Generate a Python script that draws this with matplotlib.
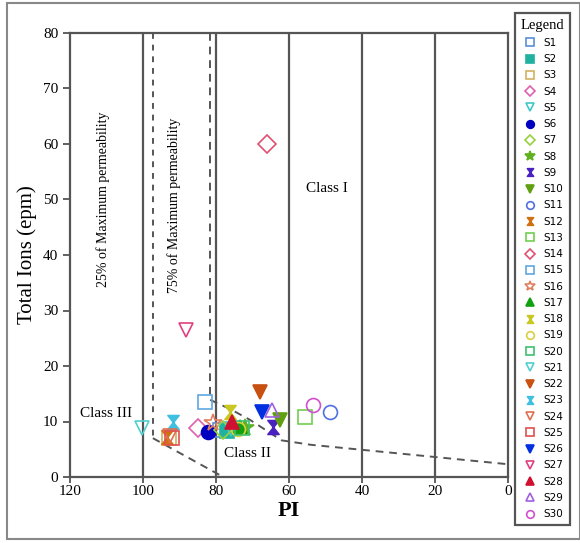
import numpy as np
import matplotlib
matplotlib.use('Agg')
import matplotlib.pyplot as plt
from matplotlib.path import Path
from matplotlib.patches import Rectangle

plt.rcParams['font.family'] = ['Liberation Serif', 'DejaVu Serif']

# sample data
samples = ['S%d' % i for i in range(1, 31)]
pi = [79, 77, 93, 85, 76, 82.2, 78, 72, 64.4, 62.5,
      48.8, 93.5, 55.6, 66, 83, 80.8, 73.4, 76.2, 74, 73,
      100.3, 68, 91.8, 92.5, 92, 67.4, 88.2, 75.6, 64.7, 53.4]
ions = [8.5, 8.3, 7.0, 8.8, 8.6, 8.1, 8.5, 8.8, 9.0, 10.3,
        11.7, 7.2, 10.8, 60, 13.5, 9.7, 9.0, 11.7, 8.7, 8.9,
        8.8, 15.3, 9.9, 7.4, 7.0, 11.7, 26.5, 9.9, 12.1, 13.0]

hourglass = Path([(-0.8, 1), (0.8, 1), (-0.8, -1), (0.8, -1), (-0.8, 1)],
                 [Path.MOVETO, Path.LINETO, Path.LINETO, Path.LINETO, Path.CLOSEPOLY])

markers = ['s', 's', 's', 'D', 'v', 'o', 'D', '*', hourglass, 'v',
           'o', hourglass, 's', 'D', 's', '*', '^', hourglass, 'o', 's',
           'v', 'v', hourglass, 'v', 's', 'v', 'v', '^', '^', 'o']
filled = [False, True, False, False, False, True, False, True, True, True,
          False, True, False, False, False, False, True, True, False, False,
          False, True, True, False, False, True, False, True, False, False]
colors = ['#5a8fd8', '#20b2a0', '#d4b060', '#e060b0', '#40c8c8', '#0000c0', '#98d040', '#60b020',
          '#4a20c0', '#60a010', '#5070e0', '#d07010', '#70d050', '#e05070', '#60a8e0', '#e08060',
          '#10a010', '#c8c820', '#d8d040', '#40c070', '#50d0d0', '#c85010', '#40c0e0', '#e07050',
          '#e05050', '#0030e0', '#e04080', '#d01030', '#a060e0', '#d050d0']

# boundary lines
upper_x = [81.6, 76, 70.7, 62, 54, 40, 20, 0]
upper_y = [13.9, 12.2, 10.3, 6.6, 5.8, 4.9, 3.6, 2.3]
lower_x = [97.3, 78]
lower_y = [7.0, 0]

fig = plt.figure(figsize=(5.8, 5.43), dpi=100)
ax = fig.add_axes([70 / 580, 1 - 477 / 543, 438 / 580, 444 / 543])

for gx in [100, 80, 60, 40, 20]:
    ax.axvline(gx, color='#555555', lw=1.6, zorder=1)

ax.plot([97.3, 97.3], [80, 7.0], ls=(0, (3, 3)), color='#555555', lw=1.4, zorder=1)
ax.plot(lower_x, lower_y, ls=(0, (4, 3)), color='#555555', lw=1.4, zorder=1)
ax.plot([81.6, 81.6], [80, 13.9], ls=(0, (4, 3)), color='#555555', lw=1.4, zorder=1)
ax.plot(upper_x, upper_y, ls=(0, (4, 3)), color='#555555', lw=1.4, zorder=1)

for i in range(len(samples)):
    c = colors[i]
    ms = 10
    if markers[i] == '*':
        ms = 13
    elif markers[i] == 'D':
        ms = 9
    ax.plot(pi[i], ions[i], ls='none', marker=markers[i], ms=ms,
            markeredgecolor=c, markerfacecolor=c if filled[i] else 'none',
            markeredgewidth=1.2, label=samples[i], zorder=3)

ax.text(111, 50, '25% of Maximum permeability', rotation=90, ha='center', va='center', fontsize=10)
ax.text(91.5, 49, '75% of Maximum permeability', rotation=90, ha='center', va='center', fontsize=10)
ax.text(49.5, 52, 'Class I', ha='center', va='center', fontsize=11)
ax.text(110, 11.5, 'Class III', ha='center', va='center', fontsize=11)
ax.text(71.5, 4.2, 'Class II', ha='center', va='center', fontsize=11)

ax.set_xlim(120, 0)
ax.set_ylim(0, 80)
ax.set_xticks([120, 100, 80, 60, 40, 20, 0])
ax.set_yticks(range(0, 81, 10))
ax.tick_params(axis='x', direction='inout', length=8, width=1.3, color='#555555', labelsize=11, pad=2)
ax.tick_params(axis='y', direction='out', length=5, width=1.3, color='#555555', labelsize=11)
for s in ax.spines.values():
    s.set_color('#555555')
    s.set_linewidth(1.6)
ax.set_xlabel('PI', fontsize=16, fontweight='bold', labelpad=2)
ax.set_ylabel('Total Ions (epm)', fontsize=15, labelpad=4)

leg = fig.legend(loc='upper left', bbox_to_anchor=(515 / 580, 1 - 13 / 543), title='Legend',
                 prop={'family': 'DejaVu Sans', 'size': 7.5}, title_fontsize=10.5,
                 markerscale=0.55, labelspacing=0.6, handlelength=1.5, handletextpad=0.5,
                 borderpad=0.55, borderaxespad=0, fancybox=False, framealpha=1, edgecolor='#555555')
leg.get_frame().set_linewidth(1.6)

fig.patches.append(Rectangle((7 / 580, 1 - 539 / 543), 573 / 580, 536 / 543,
                             transform=fig.transFigure, fill=False, edgecolor='#888888', lw=1.5))

fig.savefig('out.png', dpi=100)
